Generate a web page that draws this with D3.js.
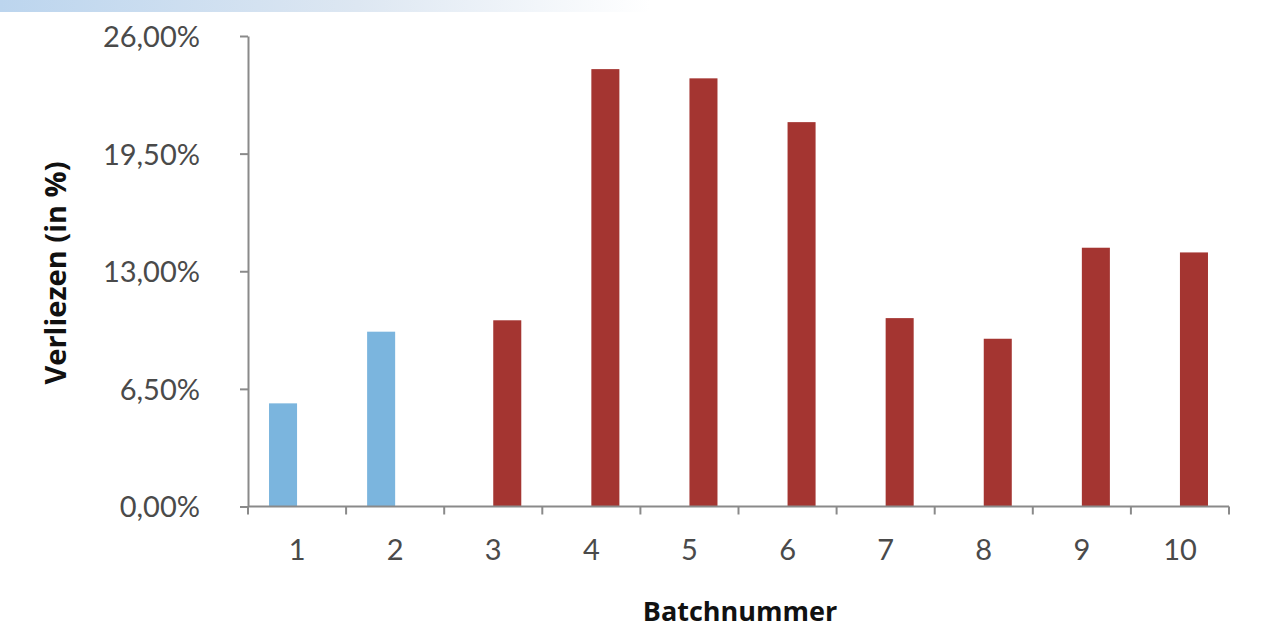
<!DOCTYPE html>
<html>
<head>
<meta charset="utf-8">
<script src="https://cdn.jsdelivr.net/npm/d3@7"></script>
<style>
  html, body { margin: 0; padding: 0; background: #ffffff; }
  svg { display: block; }
</style>
</head>
<body>
<svg id="chart" width="1263" height="631"></svg>
<script>
// Batch numbers and loss percentages per series
const batches = ["1", "2", "3", "4", "5", "6", "7", "8", "9", "10"];
const seriesBlue = [5.70, 9.66, null, null, null, null, null, null, null, null];
const seriesRed  = [null, null, 10.29, 24.17, 23.66, 21.24, 10.41, 9.27, 14.30, 14.04];
const yTicks = [0, 6.5, 13, 19.5, 26];
const yTitle = "Verliezen (in %)";
const xTitle = "Batchnummer";

const W = 1263, H = 631;
const margin = { left: 248, right: 34, top: 36, bottom: 124.5 };

const svg = d3.select("#chart");

// soft header strip fading from blue to white
const defs = svg.append("defs");
const grad = defs.append("linearGradient").attr("id", "headerFade")
  .attr("x1", "0%").attr("x2", "100%").attr("y1", "0%").attr("y2", "0%");
grad.append("stop").attr("offset", "0%").attr("stop-color", "#bcd5ee");
grad.append("stop").attr("offset", "55%").attr("stop-color", "#dde7f2");
grad.append("stop").attr("offset", "100%").attr("stop-color", "#ffffff");
svg.append("rect").attr("x", 0).attr("y", 0).attr("width", 650).attr("height", 12)
  .attr("fill", "url(#headerFade)");

const x = d3.scaleBand().domain(batches)
  .range([margin.left, W - margin.right]).paddingInner(0).paddingOuter(0);
const xSub = d3.scaleBand().domain(["blue", "red"])
  .range([0, x.bandwidth()]).paddingInner(0).paddingOuter(0.75);
const y = d3.scaleLinear().domain([0, 26]).range([H - margin.bottom, margin.top]);

const locale = d3.formatLocale({ decimal: ",", thousands: ".", grouping: [3], currency: ["", "€"] });
const fmt = v => locale.format(".2f")(v) + "%";

const axisColor = "#8a8a8a";
const textColor = "#4a4a4a";
const tickFont = "Lato, 'Open Sans', sans-serif";

// y axis
const yAxis = svg.append("g").attr("transform", `translate(${margin.left},0)`)
  .call(d3.axisLeft(y).tickValues(yTicks).tickFormat(fmt).tickSize(8).tickSizeOuter(0).tickPadding(40));
yAxis.select(".domain").attr("stroke", axisColor).attr("stroke-width", 2);
yAxis.selectAll(".tick line").attr("stroke", axisColor).attr("stroke-width", 2);
yAxis.selectAll(".tick text").attr("fill", textColor)
  .style("font-family", tickFont).style("font-weight", 400).style("font-size", "29px")
  .attr("dy", "0.36em");

// bars
const series = [
  { key: "blue", values: seriesBlue, color: "#7bb5de" },
  { key: "red", values: seriesRed, color: "#a43531" }
];
series.forEach(s => {
  svg.append("g").selectAll("rect")
    .data(batches.map((b, i) => ({ b, v: s.values[i] })).filter(d => d.v != null))
    .join("rect")
    .attr("x", d => x(d.b) + xSub(s.key))
    .attr("width", xSub.bandwidth())
    .attr("y", d => y(d.v))
    .attr("height", d => y(0) - y(d.v))
    .attr("fill", s.color);
});

// x axis: line, boundary ticks and centred labels
const x0 = y(0);
const gx = svg.append("g");
gx.append("line").attr("x1", x.range()[0]).attr("x2", x.range()[1])
  .attr("y1", x0).attr("y2", x0).attr("stroke", axisColor).attr("stroke-width", 2);
const bounds = batches.map(b => x(b)).concat([x.range()[1]]);
gx.selectAll(".bt").data(bounds).join("line").attr("class", "bt")
  .attr("x1", d => d).attr("x2", d => d).attr("y1", x0).attr("y2", x0 + 8)
  .attr("stroke", axisColor).attr("stroke-width", 2);
gx.selectAll(".xl").data(batches).join("text").attr("class", "xl")
  .attr("x", d => x(d) + x.bandwidth() / 2).attr("y", x0 + 53.5)
  .attr("text-anchor", "middle").attr("fill", textColor)
  .style("font-family", tickFont).style("font-weight", 400).style("font-size", "29px")
  .text(d => d);

// axis titles
const titleFont = "'Open Sans', 'DejaVu Sans', sans-serif";
svg.append("text")
  .attr("transform", "translate(66,273) rotate(-90)")
  .attr("text-anchor", "middle").attr("fill", "#111")
  .style("font-family", titleFont).style("font-weight", 700).style("font-size", "29px")
  .text(yTitle);
svg.append("text")
  .attr("x", 740).attr("y", 621)
  .attr("text-anchor", "middle").attr("fill", "#111")
  .style("font-family", titleFont).style("font-weight", 700).style("font-size", "27px")
  .text(xTitle);
</script>
</body>
</html>
